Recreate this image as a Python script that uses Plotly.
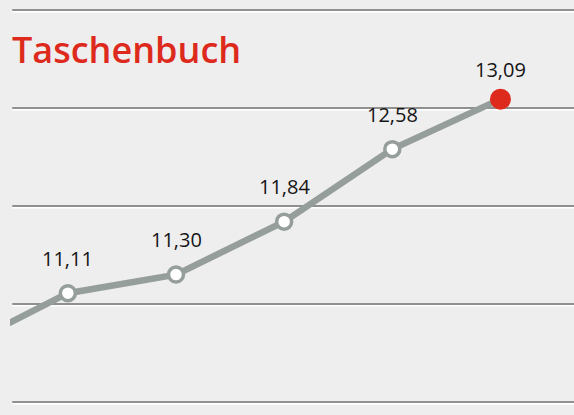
import plotly.graph_objects as go

# data
positions = [0, 1, 2, 3, 4, 5]           # 0 = preceding point, off the left edge
prices = [10.55, 11.11, 11.30, 11.84, 12.58, 13.09]
labels = ["", "11,11", "11,30", "11,84", "12,58", "13,09"]
grid_values = [10, 11, 12, 13, 14]
title_text = "Taschenbuch"

line_col = "#959e9a"
red = "#dd2a1c"
bg = "#eeeeee"

fig = go.Figure()
fig.add_trace(go.Scatter(
    x=positions, y=prices, mode="lines",
    line=dict(color=line_col, width=6.5), hoverinfo="skip", showlegend=False))
fig.add_trace(go.Scatter(
    x=positions[1:-1], y=prices[1:-1], mode="markers",
    marker=dict(size=15, color="white", line=dict(color=line_col, width=3.5)),
    showlegend=False))
fig.add_trace(go.Scatter(
    x=positions[-1:], y=prices[-1:], mode="markers",
    marker=dict(size=21, color=red, line=dict(color=red, width=0)),
    showlegend=False))

for i, (x, y, t) in enumerate(zip(positions[1:], prices[1:], labels[1:])):
    fig.add_annotation(x=x, y=y, text=t, showarrow=False,
                       yshift=30 if i == len(labels) - 2 else 35,
                       font=dict(size=20, color="#151515", family="Open Sans"))

# embossed gridlines: dark line with a faint white line below
shapes = []
for g in grid_values:
    shapes.append(dict(type="line", xref="paper", yref="y", x0=0.004, x1=1, y0=g, y1=g,
                       line=dict(color="#707070", width=1.6), layer="below"))
    shapes.append(dict(type="line", xref="paper", yref="y", x0=0.004, x1=1, y0=g - 0.018, y1=g - 0.018,
                       line=dict(color="#ffffff", width=1.5), layer="below"))
fig.update_layout(shapes=shapes)

fig.add_annotation(xref="paper", yref="paper", x=0, y=0.88, xanchor="left", yanchor="middle",
                   text=title_text, showarrow=False,
                   font=dict(size=36, color=red, family="Open Sans", weight=600))

fig.update_layout(
    width=574, height=415,
    margin=dict(l=10, r=0, t=0, b=0),
    paper_bgcolor=bg, plot_bgcolor=bg,
    xaxis=dict(range=[0.465, 5.68], visible=False, fixedrange=True),
    yaxis=dict(range=[9.867, 14.102], visible=False, fixedrange=True),
    showlegend=False,
)

fig.write_html("out.html", config={"displayModeBar": False},
               post_script="document.body.style.margin='0';document.body.style.background='#eeeeee';")
